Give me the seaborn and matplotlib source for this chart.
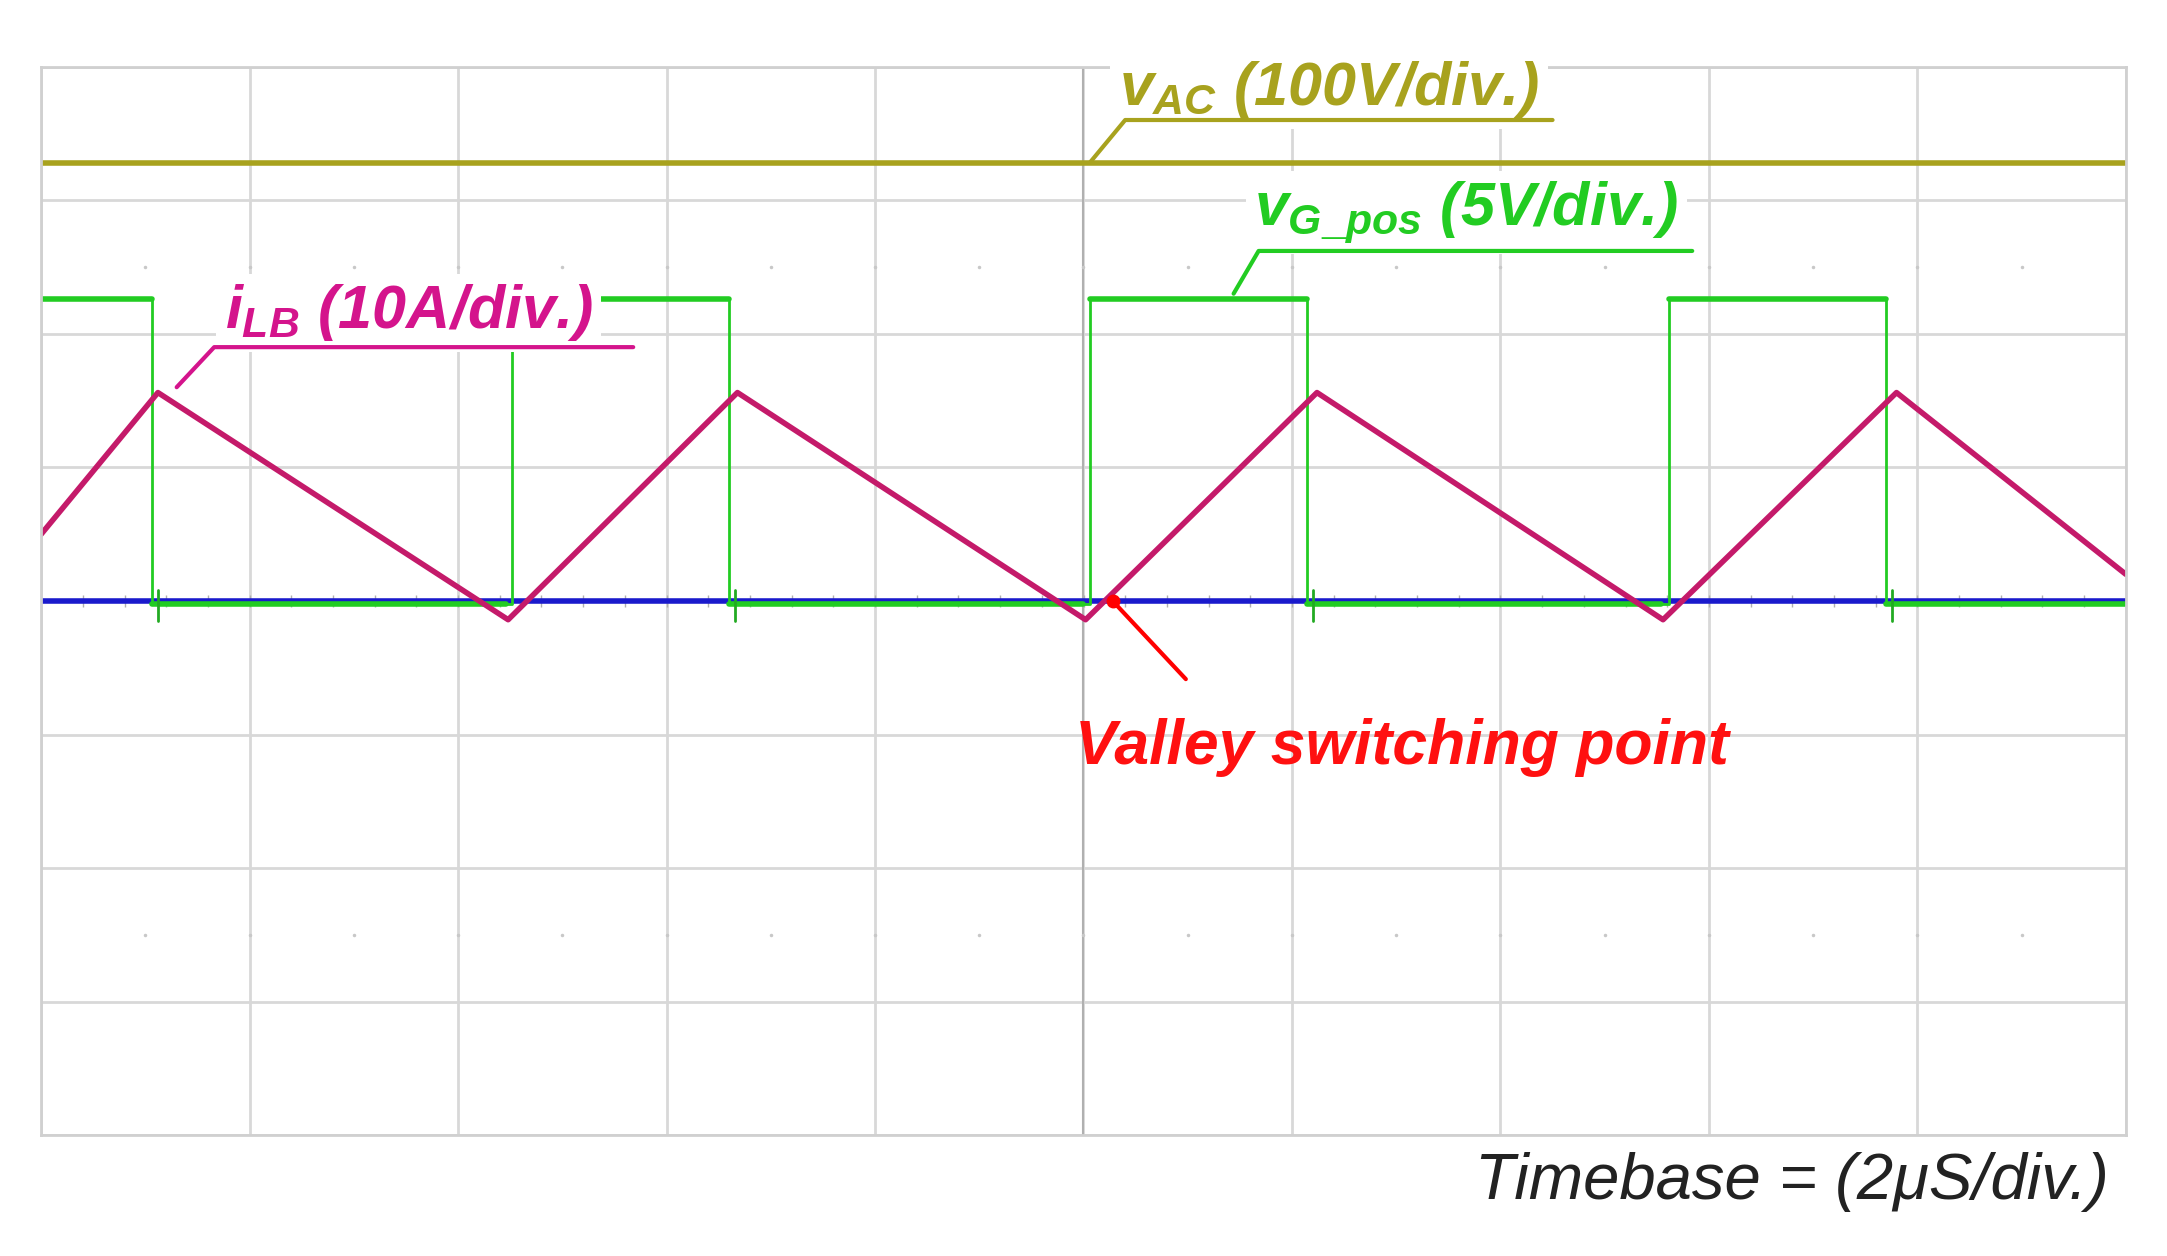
import numpy as np
import matplotlib.pyplot as plt
import seaborn as sns

# scope readings, in divisions (x: 0..10, y: 0..8)
gate_on = [-0.51, 2.26, 5.03, 7.81]
gate_off = [0.53, 3.30, 6.07, 8.85]
gate_high = 6.26
gate_low = 3.98
vac_level = 7.28
blue_level = 4.0
il_peak_t = [0.56, 3.34, 6.12, 8.90]
il_valley_t = [2.24, 5.01, 7.78]
il_peak = 5.56
il_valley = 3.86
il_start = 4.5
il_end = 4.2

sns.set_theme(style="white")
plt.rcParams['font.family'] = ['Liberation Sans', 'DejaVu Sans']
plt.rcParams['mathtext.fontset'] = 'custom'
plt.rcParams['mathtext.it'] = 'Liberation Sans:italic:bold'
plt.rcParams['mathtext.rm'] = 'Liberation Sans:bold'

fig = plt.figure(figsize=(21.67, 12.56), dpi=100)
ax = fig.add_axes([0.019, 0.096, 0.962, 0.851])
ax.set_xlim(0, 10)
ax.set_ylim(0, 8)
ax.set_xticks(range(11))
ax.set_yticks(range(9))
ax.set_xticklabels([])
ax.set_yticklabels([])
ax.grid(True, color='#d8d8d8', lw=2)
ax.tick_params(length=0)
for s in ax.spines.values():
    s.set_color('#d0d0d0')
    s.set_linewidth(2)
# scope centre axes and dotted rows
ax.axvline(5, color='#b0b0b0', lw=1.5)
ax.plot(np.arange(0.2, 10, 0.2), [4] * 49, ls='none', marker='|', ms=8, color='#b0b0b0')
for yd in [6.5, 1.5]:
    ax.plot(np.arange(0.5, 10, 0.5), [yd] * 19, ls='none', marker='.', ms=3, color='#c8c8c8')

# vac
ax.plot([0, 10], [vac_level, vac_level], color='#a8a21e', lw=4)

# gate signal
gx, gy = [0], [gate_high]
for on, off in zip(gate_on, gate_off):
    if on > 0:
        gx += [on, on]
        gy += [gate_low, gate_high]
    gx += [off, off]
    gy += [gate_high, gate_low]
gx.append(10)
gy.append(gate_low)
ax.plot([0, 10], [blue_level, blue_level], color='#1a1acc', lw=4)
ax.plot(gx, gy, color='#22cc22', lw=2)
for off in gate_off:
    ax.plot([off, 10 if off == gate_off[-1] else off + 1.7], [gate_low, gate_low], color='#22cc22', lw=4)
    ax.plot([off + 0.03, off + 0.03], [3.85, 4.08], color='#22aa22', lw=2)
for on, off in zip(gate_on, gate_off):
    ax.plot([max(on, 0), off], [gate_high, gate_high], color='#22cc22', lw=4)

# inductor current
tx = [0] + sorted(il_peak_t + il_valley_t) + [10]
ty = [il_start]
for t in sorted(il_peak_t + il_valley_t):
    ty.append(il_peak if t in il_peak_t else il_valley)
ty.append(il_end)
ax.plot(tx, ty, color='#c41a6a', lw=4)

# labels
def label(x, y, txt, col, lx):
    ax.text(x, y, txt, color=col, fontsize=44, fontweight='bold', style='italic',
            ha='left', va='bottom', zorder=6,
            bbox=dict(facecolor='white', edgecolor='none', pad=6))
    ax.plot([lx[0], lx[1], lx[2]], [lx[3], lx[4], lx[4]], color=col, lw=3, zorder=7)

label(5.17, 7.6, r'$v_{AC}$ (100V/div.)', '#a8a21e', [5.03, 5.2, 7.25, 7.28, 7.6])
label(5.82, 6.66, r'$v_{G\_pos}$ (5V/div.)', '#22cc22', [5.72, 5.84, 7.92, 6.3, 6.62])
label(0.88, 5.93, r'$i_{LB}$ (10A/div.)', '#d4148c', [0.65, 0.83, 2.84, 5.6, 5.9])

ax.plot(5.14, 4.0, 'o', color='red', ms=9, zorder=8)
ax.annotate('', xy=(5.14, 4.0), xytext=(5.5, 3.4),
            arrowprops=dict(arrowstyle='-', color='red', lw=3))
ax.text(4.96, 2.68, 'Valley switching point', color='#ff1010', fontsize=45,
        fontweight='bold', style='italic', ha='left', va='bottom')
fig.text(0.973, 0.035, 'Timebase = (2μS/div.)', color='#222222', fontsize=47,
         style='italic', ha='right', va='bottom')

fig.savefig('out.png', dpi=100)
